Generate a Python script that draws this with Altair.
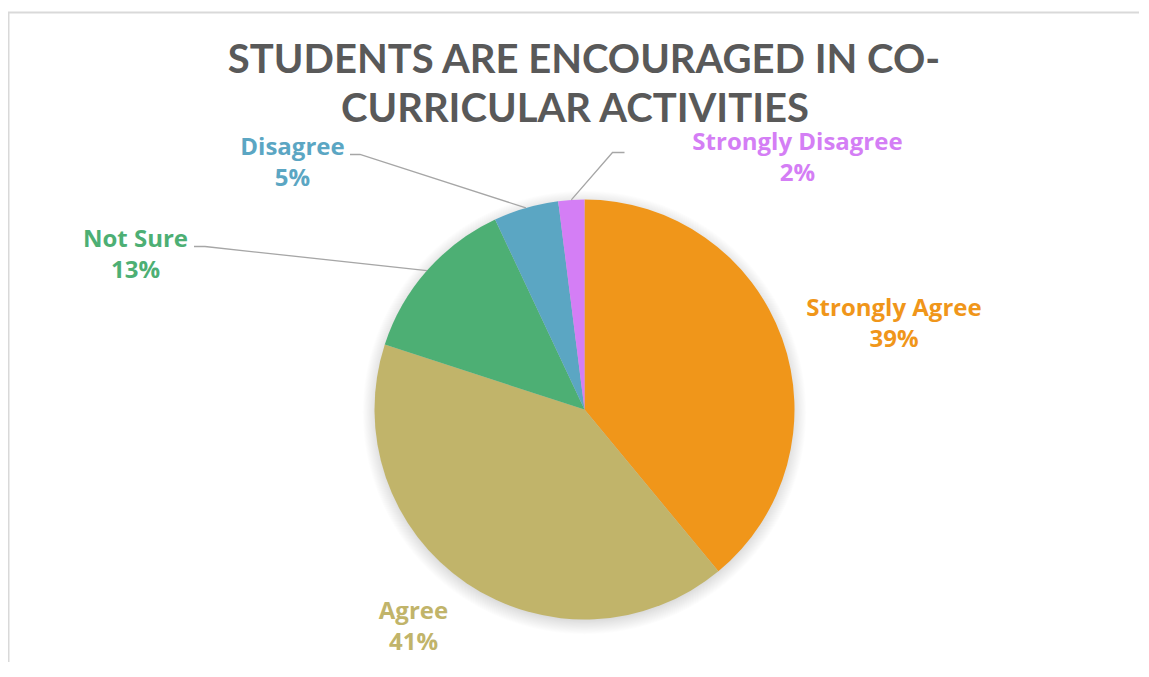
import math
import altair as alt
import pandas as pd

# ---------------- data ----------------
categories = ["Strongly Agree", "Agree", "Not Sure", "Disagree", "Strongly Disagree"]
percents = [39, 41, 13, 5, 2]
colors = ["#F0961A", "#C1B46A", "#4DAF74", "#5BA6C3", "#D47EF5"]
title_lines = ["STUDENTS ARE ENCOURAGED IN CO-", "CURRICULAR ACTIVITIES"]

# ---------------- layout (page pixels) ----------------
PAD_L, PAD_T = 1, 4
W, H = 1130, 650
X0, Y0 = 9, 12                   # page position of the plot origin
CX, CY, R = 584.5, 409.5, 210    # pie centre and radius
TITLE_FONT = "Lato"
LABEL_FONT = "Open Sans"

label_x = [894, 413.5, 135.5, 292.5, 797.5]
label_y = [316, 619, 246.5, 155, 150]        # baseline of the category line
line_gap = 31
title_x = [584, 575]
title_y = [73, 122]
leader_points = {
    "Not Sure": [(205, 246.5), (194, 246.5)],
    "Disagree": [(360, 154.5), (350, 154.5)],
    "Strongly Disagree": [(612.5, 152.5), (624.5, 152.5)],
}

xs = alt.Scale(domain=[X0, X0 + W], nice=False, zero=False)
ys = alt.Scale(domain=[Y0, Y0 + H], reverse=True, nice=False, zero=False)


def XD(v):
    return alt.XDatum(v, type="quantitative", scale=xs, axis=None)


def YD(v):
    return alt.YDatum(v, type="quantitative", scale=ys, axis=None)


df = pd.DataFrame({
    "cat": categories,
    "pct": percents,
    "idx": list(range(len(categories))),
    "label": [f"{p}%" for p in percents],
    "lx": label_x,
    "ly": label_y,
})

color_enc = alt.Color("cat:N", scale=alt.Scale(domain=categories, range=colors), legend=None)

# slice mid-angles from the data -> leader line start on the rim
total = sum(percents)
rows = []
cum = 0
for c, p in zip(categories, percents):
    mid = (cum + p / 2) / total * 2 * math.pi
    cum += p
    if c in leader_points:
        pts = [(CX + R * math.sin(mid), CY - R * math.cos(mid))] + leader_points[c]
        for i, (x, y) in enumerate(pts):
            rows.append({"cat": c, "o": i, "x": x, "y": y})
lead_df = pd.DataFrame(rows)

one = pd.DataFrame({"a": [0]})

shadow = alt.Chart(one).mark_arc(
    radius=R + 12, theta=0, theta2=2 * math.pi,
    fill=alt.RadialGradient(
        gradient="radial", x1=0.5, y1=0.5, r1=0, x2=0.5, y2=0.5, r2=0.5,
        stops=[
            alt.GradientStop(color="rgba(0,0,0,0.22)", offset=0.9),
            alt.GradientStop(color="rgba(0,0,0,0.10)", offset=0.95),
            alt.GradientStop(color="rgba(0,0,0,0)", offset=1.0),
        ],
    ),
).encode(x=XD(CX), y=YD(CY + 3))

pie = alt.Chart(df).mark_arc(radius=R).encode(
    theta=alt.Theta("pct:Q", stack=True),
    color=color_enc,
    order=alt.Order("idx:Q", sort="ascending"),
    x=XD(CX),
    y=YD(CY),
)

leaders = alt.Chart(lead_df).mark_line(color="#A6A6A6", strokeWidth=1.3).encode(
    x=alt.X("x:Q", scale=xs, axis=None),
    y=alt.Y("y:Q", scale=ys, axis=None),
    detail="cat:N",
    order="o:Q",
)

names = alt.Chart(df).mark_text(
    font=LABEL_FONT, fontSize=24, fontWeight="bold", align="center", baseline="alphabetic"
).encode(
    x=alt.X("lx:Q", scale=xs, axis=None),
    y=alt.Y("ly:Q", scale=ys, axis=None),
    text="cat:N",
    color=color_enc,
)

pcts = alt.Chart(df).mark_text(
    font=LABEL_FONT, fontSize=24, fontWeight="bold", align="center", baseline="alphabetic", dy=line_gap
).encode(
    x=alt.X("lx:Q", scale=xs, axis=None),
    y=alt.Y("ly:Q", scale=ys, axis=None),
    text="label:N",
    color=color_enc,
)

title_df = pd.DataFrame({"t": title_lines, "ty": title_y, "tx": title_x})
title = alt.Chart(title_df).mark_text(
    font=TITLE_FONT, fontSize=40, fontWeight="bold", color="#595959", align="center", baseline="alphabetic"
).encode(
    x=alt.X("tx:Q", scale=xs, axis=None),
    y=alt.Y("ty:Q", scale=ys, axis=None),
    text="t:N",
)

frame_top = alt.Chart(one).mark_rule(color="#D9D9D9", strokeWidth=2).encode(
    x=XD(X0 - 1), x2=alt.X2Datum(X0 + W), y=YD(Y0 + 0.5)
)
frame_left = alt.Chart(one).mark_rule(color="#D9D9D9", strokeWidth=2).encode(
    x=XD(X0 - 0.5), y=YD(Y0), y2=alt.Y2Datum(Y0 + H)
)

chart = alt.layer(
    frame_top, frame_left, shadow, pie, leaders, names, pcts, title
).properties(
    width=W, height=H,
    padding={"left": PAD_L, "top": PAD_T, "right": 0, "bottom": 0},
    autosize=alt.AutoSizeParams(type="none"),
).configure_view(stroke=None)

chart.save("out.html", embed_options={"renderer": "svg", "actions": False})
